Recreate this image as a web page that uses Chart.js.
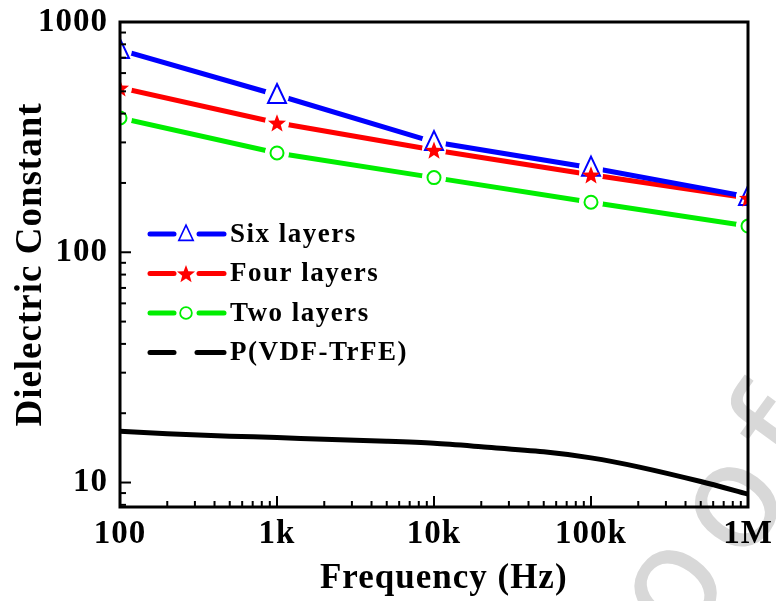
<!DOCTYPE html>
<html>
<head>
<meta charset="utf-8">
<script src="https://cdn.jsdelivr.net/npm/chart.js@4.4.0/dist/chart.umd.min.js"></script>
<style>
  html, body { margin: 0; padding: 0; background: #fff; }
  #chart { display: block; }
</style>
</head>
<body>
<canvas id="chart" width="776" height="601"></canvas>
<script>
// measured frequencies (Hz)
const freqs = [100, 1000, 10000, 100000, 1000000];
// dielectric constant
const sixLayers = [756, 482, 301, 233, 174];
const fourLayers = [518, 365, 278, 217, 172];
const twoLayers = [383, 270, 211, 165, 130];
// pure P(VDF-TrFE) curve
const pvdfFreqs = [100, 200, 500, 1000, 2000, 5000, 10000, 20000, 50000, 100000, 200000, 500000, 1000000];
const pvdf = [16.7, 16.3, 15.9, 15.7, 15.4, 15.1, 14.8, 14.3, 13.6, 12.8, 11.7, 10.1, 8.9];

const xTicks = [100, 1000, 10000, 100000, 1000000];
const xTickLabels = ["100", "1k", "10k", "100k", "1M"];
const yTicks = [10, 100, 1000];
const yTickLabels = ["10", "100", "1000"];

const serif = '"Liberation Serif", "Times New Roman", serif';
const BLUE = "#0000ff", RED = "#ff0000", GREEN = "#00ee00";

function drawMarker(ctx, kind, x, y, s) {
  ctx.save();
  ctx.translate(x, y);
  ctx.scale(s, s);
  ctx.lineWidth = 2;
  if (kind === "triangle") {
    ctx.strokeStyle = BLUE;
    ctx.beginPath();
    ctx.moveTo(0, -11); ctx.lineTo(9, 8); ctx.lineTo(-9, 8); ctx.closePath();
    ctx.stroke();
  } else if (kind === "star") {
    ctx.fillStyle = RED;
    ctx.beginPath();
    for (let i = 0; i < 10; i++) {
      const r = i % 2 === 0 ? 9.5 : 4;
      const a = -Math.PI / 2 + i * Math.PI / 5;
      ctx.lineTo(r * Math.cos(a), 1 + r * Math.sin(a));
    }
    ctx.closePath(); ctx.fill();
  } else if (kind === "circle") {
    ctx.strokeStyle = GREEN;
    ctx.beginPath(); ctx.arc(0, 0, 6.5, 0, Math.PI * 2);
    ctx.stroke();
  }
  ctx.restore();
}

function pts(xs, ys) {
  return xs.map((x, i) => ({ x: x, y: ys[i] }));
}

// faint "Proof" watermark like the source image
const watermarkPlugin = {
  id: "watermark",
  beforeDraw(chart) {
    const ctx = chart.ctx;
    ctx.save();
    ctx.translate(582, 786);
    ctx.rotate(-54 * Math.PI / 180);
    ctx.font = '145px "DejaVu Sans", sans-serif';
    ctx.letterSpacing = "14px";
    ctx.fillStyle = "#d8d8d8";
    ctx.textBaseline = "alphabetic";
    ctx.fillText("Proof", 0, 0);
    ctx.restore();
    ctx.letterSpacing = "1px";
  }
};

// markers with a white gap around them, then inward ticks and the box
const framePlugin = {
  id: "frame",
  afterDatasetsDraw(chart) {
    const ctx = chart.ctx;
    const a = chart.chartArea;
    const xs = chart.scales.x, ys = chart.scales.y;
    ctx.save();
    ctx.beginPath();
    ctx.rect(a.left, a.top - 10, a.right - a.left, a.bottom - a.top + 10);
    ctx.clip();
    const marked = [];
    chart.data.datasets.forEach((ds, i) => {
      if (ds.marker) marked.push([ds.marker, chart.getDatasetMeta(i).data]);
    });
    ctx.fillStyle = "#fff";
    marked.forEach(([kind, points]) => points.forEach(p => {
      ctx.beginPath(); ctx.arc(p.x, p.y, 12, 0, Math.PI * 2); ctx.fill();
    }));
    marked.forEach(([kind, points]) => points.forEach(p => drawMarker(ctx, kind, p.x, p.y, 1)));
    ctx.restore();

    ctx.save();
    ctx.strokeStyle = "#000";
    ctx.lineWidth = 2;
    for (let d = 100; d <= 1000000; d *= 10) {
      for (let k = 1; k <= 9; k++) {
        const v = d * k;
        if (v > 1000000) break;
        const px = xs.getPixelForValue(v);
        const len = k === 1 ? 11 : 6;
        ctx.beginPath(); ctx.moveTo(px, a.bottom); ctx.lineTo(px, a.bottom - len); ctx.stroke();
      }
    }
    for (let d = 1; d <= 1000; d *= 10) {
      for (let k = 1; k <= 9; k++) {
        const v = d * k;
        if (v < ys.min || v > 1000) continue;
        const py = ys.getPixelForValue(v);
        const len = k === 1 ? 11 : 6;
        ctx.beginPath(); ctx.moveTo(a.left, py); ctx.lineTo(a.left + len, py); ctx.stroke();
      }
    }
    ctx.lineWidth = 3;
    ctx.strokeRect(a.left, a.top, a.right - a.left, a.bottom - a.top);
    ctx.restore();
  }
};

// legend drawn inside the plot like the original
const legendItems = [
  { label: "Six layers", color: BLUE, mark: "triangle", s: 0.8 },
  { label: "Four layers", color: RED, mark: "star", s: 1 },
  { label: "Two layers", color: GREEN, mark: "circle", s: 0.9 },
  { label: "P(VDF-TrFE)", color: "#000000", mark: null }
];
const legendPlugin = {
  id: "insideLegend",
  afterDraw(chart) {
    const ctx = chart.ctx;
    ctx.save();
    const x0 = 150, x1 = 224, xm = 186;
    let y = 234;
    legendItems.forEach(it => {
      ctx.strokeStyle = it.color;
      ctx.lineWidth = 5;
      ctx.lineCap = "round";
      if (it.mark) {
        ctx.beginPath(); ctx.moveTo(x0, y); ctx.lineTo(xm - 12, y); ctx.stroke();
        ctx.beginPath(); ctx.moveTo(xm + 13, y); ctx.lineTo(x1, y); ctx.stroke();
        drawMarker(ctx, it.mark, xm, y, it.s);
      } else {
        ctx.beginPath(); ctx.moveTo(x0, y); ctx.lineTo(x0 + 24, y); ctx.stroke();
        ctx.beginPath(); ctx.moveTo(x1 - 27, y); ctx.lineTo(x1, y); ctx.stroke();
      }
      ctx.fillStyle = "#000";
      ctx.font = "bold 27px " + serif;
      ctx.letterSpacing = "1.5px";
      ctx.textBaseline = "middle";
      ctx.fillText(it.label, 230, y + 1);
      y += 39.5;
    });
    ctx.restore();
  }
};

const ctx = document.getElementById("chart").getContext("2d");
new Chart(ctx, {
  type: "line",
  data: {
    datasets: [
      { label: "Six layers", data: pts(freqs, sixLayers), marker: "triangle",
        borderColor: BLUE, borderWidth: 5, pointRadius: 0 },
      { label: "Four layers", data: pts(freqs, fourLayers), marker: "star",
        borderColor: RED, borderWidth: 5, pointRadius: 0 },
      { label: "Two layers", data: pts(freqs, twoLayers), marker: "circle",
        borderColor: GREEN, borderWidth: 5, pointRadius: 0 },
      {
        label: "P(VDF-TrFE)", data: pts(pvdfFreqs, pvdf),
        borderColor: "#000000", borderWidth: 5, pointRadius: 0, tension: 0.3
      }
    ]
  },
  options: {
    responsive: false,
    animation: false,
    devicePixelRatio: 1,
    layout: { padding: { top: 22, right: 28, left: 0, bottom: 0 } },
    plugins: { legend: { display: false }, tooltip: { enabled: false } },
    scales: {
      x: {
        type: "logarithmic", min: 100, max: 1000000,
        afterBuildTicks: s => { s.ticks = xTicks.map(v => ({ value: v })); },
        afterFit: s => { s.height = 94; s.paddingLeft = 0; s.paddingRight = 0; },
        grid: { display: false, drawTicks: false },
        border: { display: false },
        ticks: {
          padding: 8, color: "#000", maxRotation: 0, autoSkip: false,
          font: { family: serif, size: 33, weight: "bold" },
          callback: v => xTickLabels[xTicks.indexOf(v)]
        },
        title: {
          display: true, text: "\u00a0\u00a0Frequency (Hz)", color: "#000",
          font: { family: serif, size: 35, weight: "bold" },
          padding: { top: 0, bottom: 1 }
        }
      },
      y: {
        type: "logarithmic", min: 7.83, max: 1000,
        afterBuildTicks: s => { s.ticks = yTicks.map(v => ({ value: v })); },
        afterFit: s => { s.width = 120; s.paddingTop = 0; s.paddingBottom = 0; },
        grid: { display: false, drawTicks: false },
        border: { display: false },
        ticks: {
          padding: 12, color: "#000", autoSkip: false,
          font: { family: serif, size: 33, weight: "bold" },
          callback: v => yTickLabels[yTicks.indexOf(v)]
        },
        title: {
          display: true, text: "Dielectric Constant", color: "#000",
          font: { family: serif, size: 37, weight: "bold" },
          padding: { top: 9, bottom: 0 }
        }
      }
    }
  },
  plugins: [watermarkPlugin, framePlugin, legendPlugin]
});
</script>
</body>
</html>
